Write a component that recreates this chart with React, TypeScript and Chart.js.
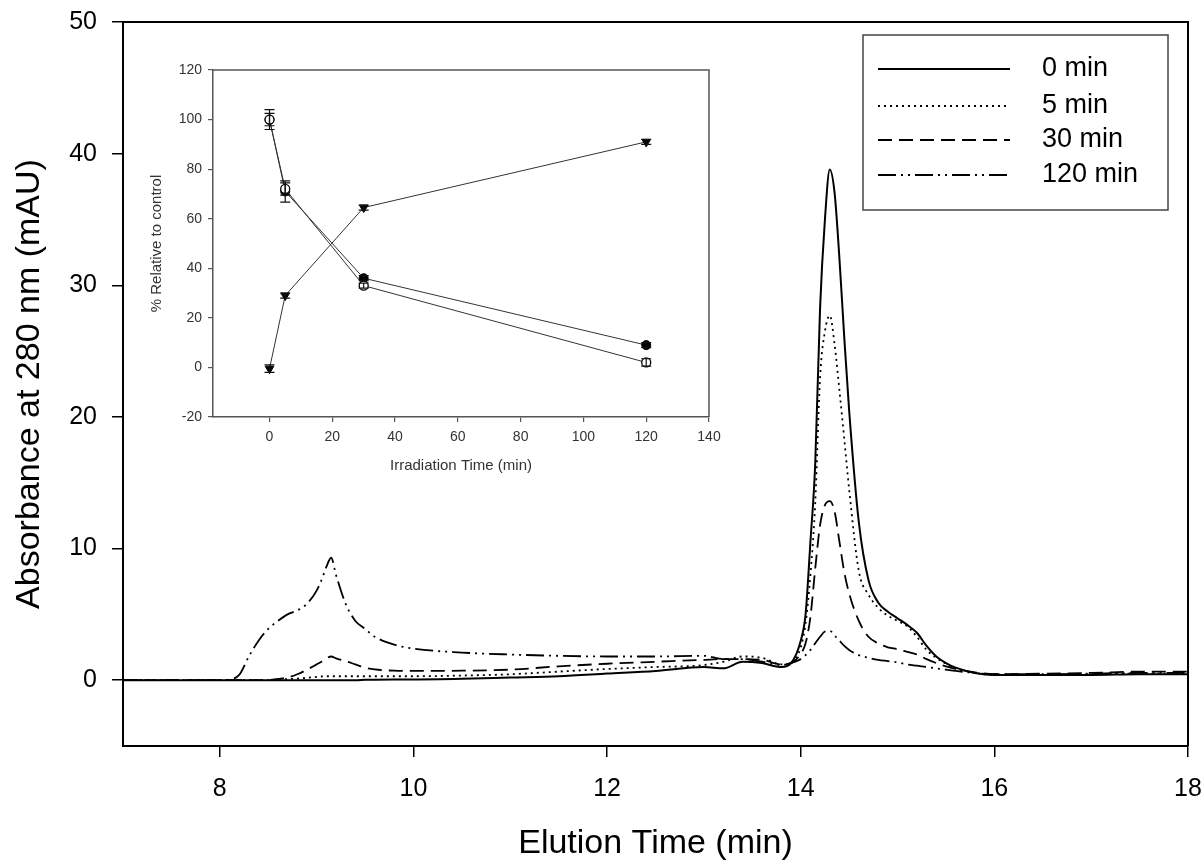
import React, { useEffect, useRef } from "react";
import { Chart, registerables } from "chart.js";
Chart.register(...registerables);

// ---------- Main chromatogram data ----------
const elutionTime = [
  7, 8, 8.1, 8.2, 8.3, 8.4, 8.5, 8.6, 8.7, 8.8, 8.9, 9.0, 9.05, 9.1, 9.15, 9.2, 9.3, 9.4, 9.5, 9.6,
  9.8, 10, 10.5, 11, 11.5, 12, 12.5, 13, 13.2, 13.4, 13.6, 13.8, 13.9, 14.0, 14.05, 14.1, 14.15, 14.2,
  14.25, 14.3, 14.35, 14.4, 14.45, 14.5, 14.6, 14.7, 14.8, 14.9, 15.0, 15.1, 15.2, 15.3, 15.4, 15.5,
  15.6, 15.8, 16, 16.5, 17, 17.5, 18,
];
const trace0min = [
  0, 0, 0, 0, 0, 0, 0, 0, 0, 0, 0, 0, 0, 0, 0, 0, 0, 0, 0.03, 0.04,
  0.05, 0.05, 0.1, 0.2, 0.3, 0.5, 0.7, 1.0, 0.9, 1.4, 1.3, 1.0, 1.3, 3.0, 5.0, 10.5, 16.5, 28.3,
  35, 38.8, 37, 32, 26, 20.5, 12, 7.6, 5.9, 5.2, 4.7, 4.2, 3.6, 2.6, 1.8, 1.3,
  0.95, 0.55, 0.4, 0.4, 0.4, 0.45, 0.45,
];
const trace5min = [
  0, 0, 0, 0, 0, 0, 0, 0.05, 0.08, 0.12, 0.18, 0.25, 0.28, 0.3, 0.3, 0.3, 0.3, 0.3, 0.3, 0.3,
  0.3, 0.3, 0.35, 0.45, 0.65, 0.85, 1.0, 1.15, 1.4, 1.8, 1.7, 1.2, 1.3, 2.5, 4.3, 8, 13.5, 23,
  26.5, 27.7, 25.5, 22, 18.3, 14.5, 8.3, 6.5, 5.5, 4.9, 4.5, 4.1, 3.3, 2.3, 1.7, 1.25,
  0.9, 0.55, 0.4, 0.4, 0.45, 0.5, 0.5,
];
const trace30min = [
  0, 0, 0, 0, 0, 0, 0.02, 0.1, 0.2, 0.45, 0.8, 1.2, 1.4, 1.65, 1.8, 1.65, 1.45, 1.2, 0.95, 0.82,
  0.72, 0.7, 0.72, 0.8, 1.05, 1.25, 1.4, 1.55, 1.6, 1.6, 1.55, 1.2, 1.3, 2.0, 2.8, 4.8, 8.5, 11.8,
  13.3, 13.6, 12.8, 10.5, 8.2, 6.6, 4.5, 3.3, 2.8, 2.5, 2.35, 2.15, 1.95, 1.6, 1.3, 1.05,
  0.85, 0.6, 0.45, 0.5, 0.55, 0.65, 0.65,
];
const trace120min = [
  0, 0, 0.05, 0.4, 1.8, 3.0, 3.9, 4.5, 5.0, 5.3, 5.8, 6.8, 7.6, 8.6, 9.3, 8.0, 5.8, 4.5, 3.9, 3.3,
  2.7, 2.4, 2.1, 1.95, 1.85, 1.8, 1.8, 1.85, 1.6, 1.6, 1.4, 1.15, 1.3, 1.6, 1.9, 2.3, 2.8, 3.3,
  3.7, 3.75, 3.4, 3.0, 2.6, 2.3, 1.9, 1.7, 1.55, 1.45, 1.35, 1.2, 1.1, 1.0, 0.9, 0.8,
  0.7, 0.55, 0.45, 0.45, 0.5, 0.55, 0.55,
];
const seriesLabels = ["0 min", "5 min", "30 min", "120 min"];
const mainXTicks = [8, 10, 12, 14, 16, 18];
const mainYTicks = [0, 10, 20, 30, 40, 50];

// ---------- Inset data ----------
const irradiationTime = [0, 5, 30, 120];
const insetOpen = [100, 72, 33, 2];
const insetOpenErr = [2.5, 2.5, 1, 1.5];
const insetFilled = [100, 71, 36, 9];
const insetFilledErr = [4, 4.3, 1, 1];
const insetTriangle = [-0.5, 29, 64.5, 91];
const insetTriangleErr = [1.5, 1, 1, 1];
const insetXTicks = [0, 20, 40, 60, 80, 100, 120, 140];
const insetYTicks = [-20, 0, 20, 40, 60, 80, 100, 120];

const FONT = "'Liberation Sans', Arial, Helvetica, sans-serif";

const zeroPad = (s: any) => {
  s.paddingTop = 0;
  s.paddingBottom = 0;
  s.paddingLeft = 0;
  s.paddingRight = 0;
};

const framePlugin = {
  id: "frame",
  afterDraw(chart: any, _args: any, opts: any) {
    const { ctx, chartArea } = chart;
    ctx.save();
    ctx.strokeStyle = opts.color || "#000";
    ctx.lineWidth = opts.width || 2;
    ctx.setLineDash([]);
    ctx.beginPath();
    ctx.moveTo(chartArea.left, chartArea.top);
    ctx.lineTo(chartArea.right, chartArea.top);
    ctx.lineTo(chartArea.right, chartArea.bottom);
    ctx.stroke();
    ctx.restore();
  },
};

const boxLegendPlugin = {
  id: "boxLegend",
  afterDraw(chart: any) {
    const { ctx, chartArea } = chart;
    const bw = 305;
    const bh = 175;
    const bx = chartArea.right - 20 - bw;
    const by = chartArea.top + 13;
    ctx.save();
    ctx.fillStyle = "#fff";
    ctx.fillRect(bx, by, bw, bh);
    ctx.strokeStyle = "#444";
    ctx.lineWidth = 1.5;
    ctx.setLineDash([]);
    ctx.strokeRect(bx, by, bw, bh);
    const rows = [34, 71, 105, 140];
    ctx.font = `27px ${FONT}`;
    ctx.textBaseline = "middle";
    ctx.fillStyle = "#000";
    chart.data.datasets.forEach((ds: any, i: number) => {
      const y = by + rows[i];
      ctx.strokeStyle = "#000";
      ctx.lineWidth = ds.borderWidth;
      ctx.setLineDash(ds.borderDash || []);
      ctx.beginPath();
      ctx.moveTo(bx + 15, y);
      ctx.lineTo(bx + 147, y);
      ctx.stroke();
      ctx.setLineDash([]);
      ctx.fillText(ds.label, bx + 179, y);
    });
    ctx.restore();
  },
};

const errorBarPlugin = {
  id: "errorBars",
  afterDatasetsDraw(chart: any) {
    const { ctx } = chart;
    const yScale = chart.scales.y;
    ctx.save();
    ctx.strokeStyle = "#111";
    ctx.lineWidth = 1.2;
    ctx.setLineDash([]);
    chart.data.datasets.forEach((ds: any, di: number) => {
      if (!ds.errors) return;
      const meta = chart.getDatasetMeta(di);
      meta.data.forEach((pt: any, i: number) => {
        const v = ds.data[i].y;
        const e = ds.errors[i];
        const top = yScale.getPixelForValue(v + e);
        const bot = yScale.getPixelForValue(v - e);
        ctx.beginPath();
        ctx.moveTo(pt.x, top);
        ctx.lineTo(pt.x, bot);
        ctx.moveTo(pt.x - 5, top);
        ctx.lineTo(pt.x + 5, top);
        ctx.moveTo(pt.x - 5, bot);
        ctx.lineTo(pt.x + 5, bot);
        ctx.stroke();
      });
    });
    ctx.restore();
  },
};

function mainConfig(): any {
  const traces = [trace0min, trace5min, trace30min, trace120min];
  const dashes = [[], [2, 4], [14, 7], [18, 5, 2, 5, 2, 5]];
  const widths = [2, 1.8, 1.8, 1.8];
  return {
    type: "line",
    data: {
      datasets: traces.map((vals, i) => ({
        label: seriesLabels[i],
        data: elutionTime.map((t, j) => ({ x: t, y: vals[j] })),
        borderColor: "#000",
        borderWidth: widths[i],
        borderDash: dashes[i],
        pointRadius: 0,
        fill: false,
        tension: 0.3,
        cubicInterpolationMode: "monotone",
      })),
    },
    options: {
      responsive: false,
      animation: false,
      devicePixelRatio: 1,
      layout: { padding: { left: 0, top: 22, right: 15, bottom: 0 } },
      plugins: { legend: { display: false }, tooltip: { enabled: false }, frame: { color: "#000", width: 2 } },
      scales: {
        x: {
          type: "linear",
          min: 7,
          max: 18,
          afterBuildTicks: (s: any) => {
            s.ticks = mainXTicks.map((v) => ({ value: v }));
          },
          afterFit: (s: any) => {
            s.height = 115;
            zeroPad(s);
          },
          grid: { drawOnChartArea: false, drawTicks: true, tickLength: 11, color: "#000", lineWidth: 1.5 },
          border: { display: true, color: "#000", width: 2 },
          ticks: { color: "#000", font: { family: FONT, size: 25 }, padding: 17, maxRotation: 0, autoSkip: false },
          title: {
            display: true,
            text: "Elution Time (min)",
            color: "#000",
            font: { family: FONT, size: 34, lineHeight: 1 },
            padding: { top: 0, bottom: 0 },
          },
        },
        y: {
          type: "linear",
          min: -5,
          max: 50,
          afterBuildTicks: (s: any) => {
            s.ticks = mainYTicks.map((v) => ({ value: v }));
          },
          afterFit: (s: any) => {
            s.width = 123;
            zeroPad(s);
          },
          grid: { drawOnChartArea: false, drawTicks: true, tickLength: 11, color: "#000", lineWidth: 1.5 },
          border: { display: true, color: "#000", width: 2 },
          ticks: { color: "#000", font: { family: FONT, size: 25 }, padding: 15 },
          title: {
            display: true,
            text: "Absorbance at 280 nm (mAU)",
            color: "#000",
            font: { family: FONT, size: 34, lineHeight: 1.2 },
            padding: { top: 9, bottom: 0 },
          },
        },
      },
    },
    plugins: [framePlugin, boxLegendPlugin],
  };
}

function insetConfig(): any {
  const mk = (vals: number[]) => irradiationTime.map((t, i) => ({ x: t, y: vals[i] }));
  return {
    type: "line",
    data: {
      datasets: [
        {
          label: "open",
          data: mk(insetOpen),
          errors: insetOpenErr,
          borderColor: "#333",
          borderWidth: 1,
          pointStyle: "circle",
          pointRadius: 4.5,
          pointBackgroundColor: "#fff",
          pointBorderColor: "#000",
          pointBorderWidth: 1.3,
          tension: 0,
        },
        {
          label: "filled",
          data: mk(insetFilled),
          errors: insetFilledErr,
          borderColor: "#333",
          borderWidth: 1,
          pointStyle: "circle",
          pointRadius: 4.5,
          pointBackgroundColor: "#000",
          pointBorderColor: "#000",
          pointBorderWidth: 1,
          tension: 0,
        },
        {
          label: "triangle",
          data: mk(insetTriangle),
          errors: insetTriangleErr,
          borderColor: "#333",
          borderWidth: 1,
          pointStyle: "triangle",
          pointRotation: 180,
          pointRadius: 5,
          pointBackgroundColor: "#000",
          pointBorderColor: "#000",
          pointBorderWidth: 1,
          tension: 0,
        },
      ],
    },
    options: {
      responsive: false,
      animation: false,
      devicePixelRatio: 1,
      layout: { padding: { left: 140, top: 70, right: 494, bottom: 384 } },
      plugins: { legend: { display: false }, tooltip: { enabled: false }, frame: { color: "#555", width: 1.5 } },
      scales: {
        x: {
          type: "linear",
          min: -18,
          max: 140,
          afterBuildTicks: (s: any) => {
            s.ticks = insetXTicks.map((v) => ({ value: v }));
          },
          afterFit: (s: any) => {
            s.height = 60;
            zeroPad(s);
          },
          grid: { drawOnChartArea: false, drawTicks: true, tickLength: 5, color: "#555", lineWidth: 1.2 },
          border: { display: true, color: "#555", width: 1.5 },
          ticks: { color: "#333", font: { family: FONT, size: 14 }, padding: 7, maxRotation: 0, autoSkip: false },
          title: {
            display: true,
            text: "Irradiation Time (min)",
            color: "#333",
            font: { family: FONT, size: 15, lineHeight: 1.2 },
            padding: { top: 0, bottom: 2 },
          },
        },
        y: {
          type: "linear",
          min: -20,
          max: 120,
          afterBuildTicks: (s: any) => {
            s.ticks = insetYTicks.map((v) => ({ value: v }));
          },
          afterFit: (s: any) => {
            s.width = 73;
            zeroPad(s);
          },
          grid: { drawOnChartArea: false, drawTicks: true, tickLength: 5, color: "#555", lineWidth: 1.2 },
          border: { display: true, color: "#555", width: 1.5 },
          ticks: { color: "#333", font: { family: FONT, size: 14 }, padding: 6 },
          title: {
            display: true,
            text: "% Relative to control",
            color: "#333",
            font: { family: FONT, size: 15, lineHeight: 1.2 },
            padding: { top: 8, bottom: 0 },
          },
        },
      },
    },
    plugins: [framePlugin, errorBarPlugin],
  };
}

export default function App() {
  const mainRef = useRef<HTMLCanvasElement>(null);
  const insetRef = useRef<HTMLCanvasElement>(null);
  useEffect(() => {
    const main = new Chart(mainRef.current as HTMLCanvasElement, mainConfig());
    const inset = new Chart(insetRef.current as HTMLCanvasElement, insetConfig());
    return () => {
      main.destroy();
      inset.destroy();
    };
  }, []);
  return (
    <div style={{ position: "absolute", left: 0, top: 0, width: 1203, height: 861, background: "#fff" }}>
      <canvas ref={mainRef} width={1203} height={861} style={{ position: "absolute", left: 0, top: 0 }} />
      <canvas
        ref={insetRef}
        width={1203}
        height={861}
        style={{ position: "absolute", left: 0, top: 0, pointerEvents: "none" }}
      />
    </div>
  );
}
